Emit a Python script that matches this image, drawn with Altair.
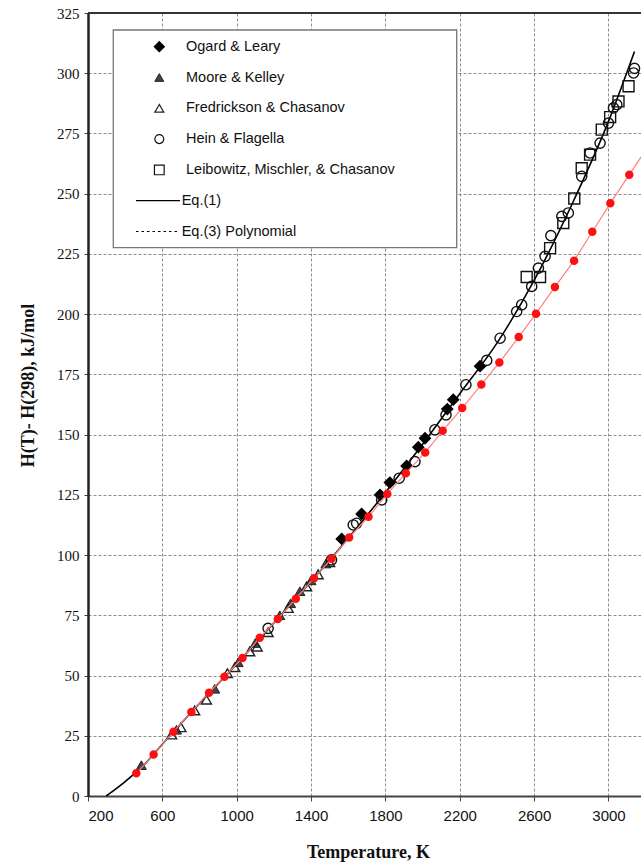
import altair as alt
import pandas as pd

# ---- data ----
eq1_T = [298, 400, 500, 600, 800, 1000, 1200, 1400, 1600, 1800, 2000, 2200, 2400, 2600, 2800, 3000, 3140]
eq1_H = [0, 6, 12.8, 21.5, 38.5, 54.8, 71.8, 89, 107, 126, 146, 167, 188, 214, 245, 280, 309]

eq3_T = [460, 553, 660, 756, 851, 934, 1031, 1124, 1221, 1318, 1416, 1510, 1605, 1709, 1810, 1910,
         2014, 2108, 2213, 2316, 2413, 2517, 2610, 2712, 2815, 2913, 3010, 3112, 3212]
eq3_H = [9.4, 17.2, 26.7, 34.9, 42.9, 49.5, 57.3, 65.7, 73.5, 81.9, 90.4, 98.5, 107.3, 115.9, 125.4, 134.0,
         142.6, 151.6, 161.0, 170.8, 179.9, 190.5, 200.2, 211.3, 222.2, 234.2, 246.0, 257.9, 269.5]

ogard_T = [1565, 1672, 1771, 1824, 1914, 1977, 2013, 2133, 2165, 2309]
ogard_H = [106.7, 117.1, 125.0, 130.1, 137.0, 144.8, 148.5, 160.6, 164.5, 178.4]

moore_T = [487, 676, 882, 1008, 1100, 1232, 1290, 1340, 1400, 1480]
moore_H = [12.8, 27.5, 44.5, 55.5, 63.5, 75.0, 80.0, 85.0, 89.5, 96.5]

fred_T = [650, 700, 774, 837, 950, 990, 1070, 1110, 1169, 1277, 1376, 1438, 1500]
fred_H = [25.5, 28.5, 35.5, 40.0, 51.0, 53.5, 60.0, 62.0, 68.0, 78.0, 87.0, 92.0, 97.0]

hein_T = [1169, 1510, 1627, 1645, 1780, 1874, 1959, 2066, 2126, 2233, 2345, 2417, 2506, 2533, 2587,
          2623, 2659, 2690, 2749, 2784, 2856, 2901, 2955, 3000, 3027, 3045, 3135, 3140]
hein_H = [69.6, 98.0, 112.5, 113.2, 122.9, 131.9, 138.8, 152.0, 158.2, 170.7, 180.8, 190.0, 201.1, 203.9, 211.5,
          219.1, 224.0, 232.6, 240.6, 242.0, 257.2, 266.9, 271.0, 279.3, 285.6, 287.0, 300.1, 302.0]

leib_T = [2560, 2632, 2686, 2757, 2816, 2856, 2901, 2964, 3009, 3054, 3108]
leib_H = [215.4, 215.4, 227.4, 237.8, 248.0, 260.6, 266.2, 276.6, 281.8, 288.3, 294.6]

legend_labels = ["Ogard & Leary", "Moore & Kelley", "Fredrickson & Chasanov", "Hein & Flagella",
                 "Leibowitz, Mischler, & Chasanov", "Eq.(1)", "Eq.(3) Polynomial"]

x_ticks = [200, 600, 1000, 1400, 1800, 2200, 2600, 3000]
y_ticks = list(range(0, 326, 25))

# ---- chart ----
W, H = 553, 783
xs = alt.Scale(domain=[200, 3175], nice=False, zero=False)
ys = alt.Scale(domain=[0, 325], nice=False, zero=False)

xaxis = alt.Axis(values=x_ticks, format="d", title="Temperature, K", labelFont="Liberation Sans",
                 labelFontSize=15, labelColor="#111", tickSize=5, tickColor="#444", domainColor="#444",
                 domainWidth=2, labelPadding=7, grid=True, gridColor="#808080", gridDash=[3, 2], gridWidth=0.9,
                 titleFont="Liberation Serif", titleFontSize=18, titleFontWeight="bold", titleColor="#111",
                 titleX=280, titleY=61, titleAlign="center", titleBaseline="alphabetic")
yaxis = alt.Axis(values=y_ticks, format="d", title="H(T)- H(298), kJ/mol", labelFont="Liberation Serif",
                 labelFontSize=15, labelColor="#111", tickSize=4, tickColor="#444", domainColor="#222",
                 domainWidth=2.5, labelPadding=5, grid=True, gridColor="#808080", gridDash=[3, 2], gridWidth=0.9,
                 titleFont="Liberation Serif", titleFontSize=18, titleFontWeight="bold", titleColor="#111",
                 titleX=-60, titleY=372, titleAlign="center", titleBaseline="middle", titleAngle=-90)

def df(T, Hv):
    return pd.DataFrame({"T": T, "H": Hv})

def enc(c, ax=False):
    if ax:
        return c.encode(x=alt.X("T:Q", scale=xs, axis=xaxis), y=alt.Y("H:Q", scale=ys, axis=yaxis))
    return c.encode(x=alt.X("T:Q", scale=xs), y=alt.Y("H:Q", scale=ys))

eq1 = enc(alt.Chart(df(eq1_T, eq1_H)).mark_line(color="black", strokeWidth=1.6, interpolate="monotone"), True)
top_rule = alt.Chart(pd.DataFrame({"H": [325]})).mark_rule(color="#333", strokeWidth=2).encode(
    y=alt.Y("H:Q", scale=ys))

ms = 1.4
moore = enc(alt.Chart(df(moore_T, moore_H)).mark_point(shape="triangle-up", size=100, filled=True,
                                                       fill="#444", stroke="#222", strokeWidth=1, opacity=1))
fred = enc(alt.Chart(df(fred_T, fred_H)).mark_point(shape="triangle-up", size=100, filled=False,
                                                    stroke="#222", strokeWidth=ms, opacity=1))
ogard = enc(alt.Chart(df(ogard_T, ogard_H)).mark_point(shape="diamond", size=100, filled=True,
                                                       fill="black", stroke="black", opacity=1))
hein = enc(alt.Chart(df(hein_T, hein_H)).mark_point(shape="circle", size=105, filled=False,
                                                    stroke="#111", strokeWidth=ms, opacity=1))
leib = enc(alt.Chart(df(leib_T, leib_H)).mark_point(shape="square", size=120, filled=False,
                                                    stroke="#111", strokeWidth=ms, opacity=1))

eq3_line = enc(alt.Chart(df(eq3_T, eq3_H)).mark_line(color="#ff8080", strokeWidth=1.2, clip=True))
eq3_pts = enc(alt.Chart(df(eq3_T, eq3_H)).mark_point(shape="circle", size=42, filled=True, fill="#ff1010",
                                                     stroke="#ff1010", opacity=1, clip=True))

# ---- legend (pixel positions inside the plot area) ----
row_y = [33.7 + 30.8 * i for i in range(len(legend_labels))]
leg_box = alt.Chart(pd.DataFrame({"x": [25.3], "x2": [368.7], "y": [17], "y2": [234.7]})).mark_rect(
    fill="white", stroke="#777", strokeWidth=1.3).encode(
    x=alt.X("x:Q", scale=None), x2="x2:Q", y=alt.Y("y:Q", scale=None), y2="y2:Q")

sym_x = 71.3
def leg_sym(i, **kw):
    return alt.Chart(pd.DataFrame({"x": [sym_x], "y": [row_y[i]]})).mark_point(opacity=1, **kw).encode(
        x=alt.X("x:Q", scale=None), y=alt.Y("y:Q", scale=None))

leg_syms = [
    leg_sym(0, shape="diamond", size=80, filled=True, fill="black", stroke="black"),
    leg_sym(1, shape="triangle-up", size=80, filled=True, fill="#444", stroke="#222", strokeWidth=1),
    leg_sym(2, shape="triangle-up", size=80, filled=False, stroke="#222", strokeWidth=1.2),
    leg_sym(3, shape="circle", size=80, filled=False, stroke="#111", strokeWidth=1.2),
    leg_sym(4, shape="square", size=95, filled=False, stroke="#111", strokeWidth=1.2),
]

text_x = [98, 98, 98, 98, 98, 93.7, 93.7]
leg_text = alt.Chart(pd.DataFrame({"label": legend_labels, "x": text_x, "y": row_y})).mark_text(
    align="left", baseline="middle", font="Liberation Sans", fontSize=14.5, color="#111").encode(
    x=alt.X("x:Q", scale=None), y=alt.Y("y:Q", scale=None), text="label:N")

leg_line1 = alt.Chart(pd.DataFrame({"x": [48], "x2": [92], "y": [row_y[5]]})).mark_rule(
    color="black", strokeWidth=1.3).encode(x=alt.X("x:Q", scale=None), x2="x2:Q", y=alt.Y("y:Q", scale=None))
leg_line2 = alt.Chart(pd.DataFrame({"x": [48], "x2": [92], "y": [row_y[6]]})).mark_rule(
    color="black", strokeWidth=1.1, strokeDash=[2.5, 3]).encode(x=alt.X("x:Q", scale=None), x2="x2:Q",
                                                             y=alt.Y("y:Q", scale=None))

chart = alt.layer(
    eq1, top_rule, moore, fred, ogard, hein, leib, eq3_line, eq3_pts,
    leg_box, *leg_syms, leg_text, leg_line1, leg_line2,
).properties(
    width=W, height=H,
    autosize=alt.AutoSizeParams(type="none"),
    padding={"left": 88, "top": 13, "right": 0, "bottom": 72},
).configure_view(stroke=None).configure(background="white")

chart.save("out.html", embed_options={"renderer": "svg", "actions": False})
